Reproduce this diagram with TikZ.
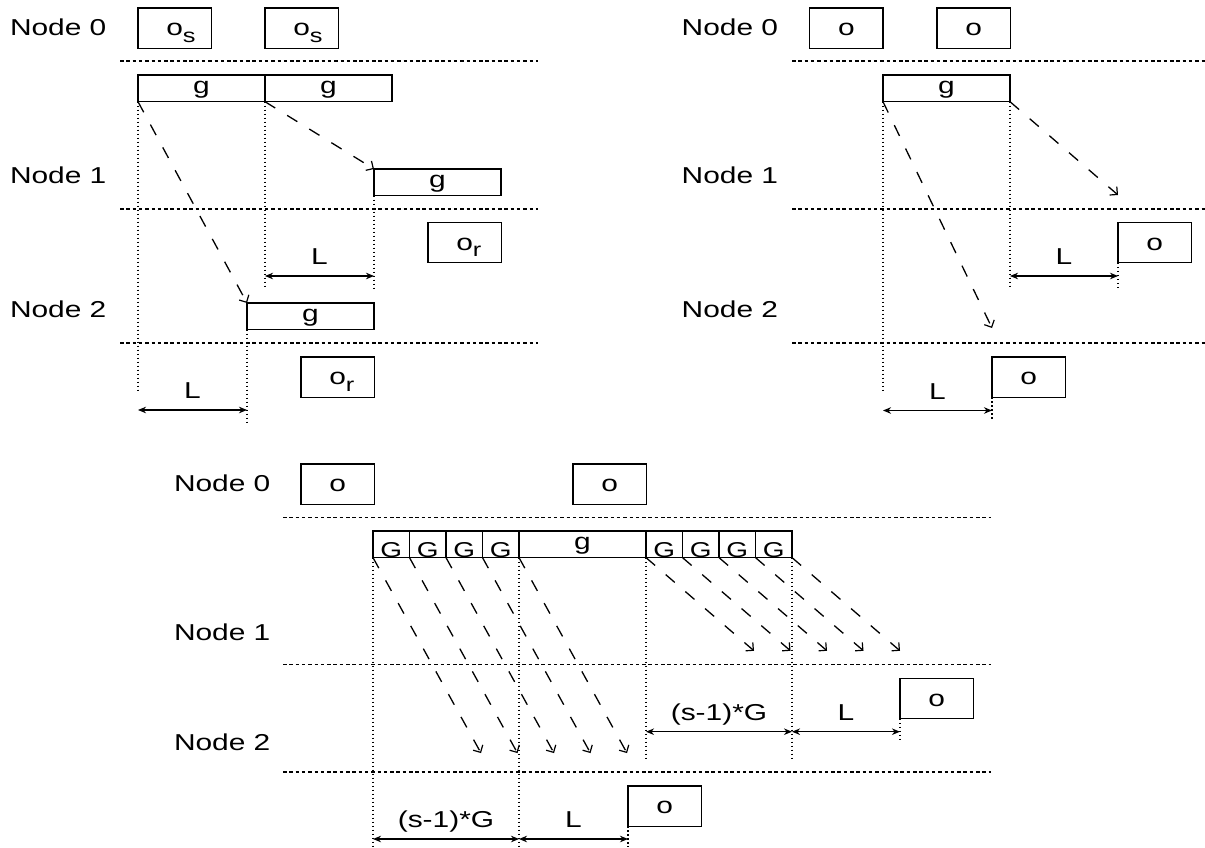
\documentclass[tikz,border=0pt]{standalone}
\usepackage{fontspec}
\setmainfont{Liberation Sans}[FakeStretch=1.3]
\usetikzlibrary{arrows.meta}
\newcommand\osub[1]{\rlap{\raisebox{-6.5pt}{\fontsize{19.5}{19.5}\selectfont #1}}}
\begin{document}
\begin{tikzpicture}[x=1pt,y=-1pt,
  every node/.style={inner sep=0pt, outer sep=0pt},
  txt/.style={font=\fontsize{23}{27}\selectfont},
  lbl/.style={txt, anchor=base west},
  obox/.style={draw, line width=1.3pt, minimum width=73.3pt, minimum height=40.3pt, txt, text height=15pt, text depth=0pt},
  gbox/.style={draw, line width=1.3pt, minimum width=127pt, minimum height=26.7pt, txt, text height=10pt, text depth=0pt},
  Gbox/.style={draw, line width=1.3pt, minimum width=36.5pt, minimum height=26.7pt, font=\fontsize{21.5}{24}\selectfont, text height=25.5pt, text depth=0pt},
  hsep/.style={line width=1.2pt, dash pattern=on 3.5pt off 2.8pt},
  vdot/.style={line width=1.6pt, dash pattern=on 1.6pt off 2.4pt},
  darr/.style={line width=1.3pt, dash pattern=on 12pt off 14pt, -{Straight Barb[length=5.5pt,width=11pt,line width=1.2pt]}},
  dim/.style={line width=1.1pt, {Stealth[length=8pt,width=6.5pt,inset=2.5pt]}-{Stealth[length=8pt,width=6.5pt,inset=2.5pt]}},
  dimlbl/.style={txt, anchor=base},
]
\fill[white] (0,0) rectangle (1205,848);
\useasboundingbox (0,0) rectangle (1205,848);

% ================= top-left panel =================
\node[lbl] (tln0) at (10,35.7) {Node 0};
\node[lbl] (tln1) at (10,183.3) {Node 1};
\node[lbl] (tln2) at (10,317.3) {Node 2};
\draw[hsep] (120,61) -- (538,61);
\draw[hsep] (120,209) -- (538,209);
\draw[hsep] (120,343) -- (538,343);

\node[obox] (tlos1) at (174.65,28.15) {o\osub{s}};
\node[obox] (tlos2) at (301.65,28.15) {o\osub{s}};
\node[gbox] (tlg1) at (201.5,88.35) {g};
\node[gbox] (tlg2) at (328.5,88.35) {g};
\node[gbox] (tlg3) at (437.5,182.35) {g};
\node[obox] (tlor1) at (464.65,242.65) {o\osub{r}};
\node[gbox] (tlg4) at (310.5,316.35) {g};
\node[obox] (tlor2) at (337.65,377) {o\osub{r}};

\coordinate (tlv1) at (138,393);
\coordinate (tlv2) at (265,287);
\coordinate (tlv3) at (374,289);
\coordinate (tlv4) at (247,423);
\draw[vdot] (tlg1.south west) -- (tlv1);
\draw[vdot] (tlg2.south west) -- (tlv2);
\draw[vdot] (tlg3.south west) -- (tlv3);
\draw[vdot] (tlg4.south west) -- (tlv4);

\draw[darr] (tlg1.south west) -- (tlg4.north west);
\draw[darr] (tlg2.south west) -- (tlg3.north west);

\coordinate (tld1a) at (265,276);
\coordinate (tld1b) at (374,276);
\coordinate (tld2a) at (138,410);
\coordinate (tld2b) at (247,410);
\draw[dim] (tld1a) -- (tld1b);
\draw[dim] (tld2a) -- (tld2b);
\node[dimlbl] (tlL1) at (319.5,264.5) {L};
\node[dimlbl] (tlL2) at (192.5,398) {L};

% ================= top-right panel =================
\node[lbl] (trn0) at (681.7,35.7) {Node 0};
\node[lbl] (trn1) at (681.7,183.3) {Node 1};
\node[lbl] (trn2) at (681.7,317.3) {Node 2};
\draw[hsep] (792,61) -- (1205,61);
\draw[hsep] (792,209) -- (1205,209);
\draw[hsep] (792,343) -- (1205,343);

\node[obox] (tro1) at (846.35,28.15) {o};
\node[obox] (tro2) at (973.65,28.15) {o};
\node[gbox] (trg) at (946.5,88.35) {g};
\node[obox] (tro3) at (1154.65,242.65) {o};
\node[obox] (tro4) at (1028.65,377) {o};

\coordinate (tre1) at (1118,195);
\coordinate (tre2) at (992,328);
\draw[darr] (trg.south east) -- (tre1);
\draw[darr] (trg.south west) -- (tre2);

\coordinate (trv1) at (883,393);
\coordinate (trv2) at (1010,287);
\coordinate (trv3) at (1118,287);
\coordinate (trv4) at (992,421);
\draw[vdot] (trg.south west) -- (trv1);
\draw[vdot] (trg.south east) -- (trv2);
\draw[vdot] (tro3.south west) -- (trv3);
\draw[vdot] (tro4.south west) -- (trv4);

\coordinate (trd1a) at (1010,276);
\coordinate (trd1b) at (1118,276);
\coordinate (trd2a) at (883,410.5);
\coordinate (trd2b) at (992,410.5);
\draw[dim] (trd1a) -- (trd1b);
\draw[dim] (trd2a) -- (trd2b);
\node[dimlbl] (trL1) at (1064,264.5) {L};
\node[dimlbl] (trL2) at (937.5,399) {L};

% ================= bottom panel =================
\node[lbl] (bn0) at (174,491) {Node 0};
\node[lbl] (bn1) at (174,640) {Node 1};
\node[lbl] (bn2) at (174,750) {Node 2};
\draw[hsep] (283,517.7) -- (991,517.7);
\draw[hsep] (283,664.7) -- (991,664.7);
\draw[hsep] (283,772) -- (991,772);

\node[obox] (bo1) at (337.65,484.15) {o};
\node[obox] (bo2) at (609.65,484.15) {o};
\node[Gbox] (bG1) at (391.25,544.25) {G};
\node[Gbox] (bG2) at (427.75,544.25) {G};
\node[Gbox] (bG3) at (464.25,544.25) {G};
\node[Gbox] (bG4) at (500.75,544.25) {G};
\node[gbox] (bg) at (582.5,544.25) {g};
\node[Gbox] (bH1) at (664.25,544.25) {G};
\node[Gbox] (bH2) at (700.75,544.25) {G};
\node[Gbox] (bH3) at (737.25,544.25) {G};
\node[Gbox] (bH4) at (773.75,544.25) {G};
\node[obox] (bo3) at (936.65,698.65) {o};
\node[obox] (bo4) at (664.65,806.15) {o};

% dashed arrows, left group (to Node 2)
\foreach \s/\n in {bG1.south west/1, bG2.south west/2, bG3.south west/3, bG4.south west/4, bg.south west/5}{
  \path (\s) ++(108,195.5) coordinate (bel\n);
  \draw[darr] (\s) -- (bel\n);
}
% dashed arrows, right group (to Node 1)
\foreach \s/\n in {bH1.south west/1, bH2.south west/2, bH3.south west/3, bH4.south west/4, bH4.south east/5}{
  \path (\s) ++(108,93.2) coordinate (ber\n);
  \draw[darr] (\s) -- (ber\n);
}

\coordinate (bv1) at (373,847);
\coordinate (bv2) at (519,847);
\coordinate (bv3) at (646,760);
\coordinate (bv4) at (792,760);
\coordinate (bv5) at (900,742);
\coordinate (bv6) at (628,847);
\draw[vdot] (bG1.south west) -- (bv1);
\draw[vdot] (bg.south west) -- (bv2);
\draw[vdot] (bg.south east) -- (bv3);
\draw[vdot] (bH4.south east) -- (bv4);
\draw[vdot] (bo3.south west) -- (bv5);
\draw[vdot] (bo4.south west) -- (bv6);

\coordinate (bd1a) at (646,731.7);
\coordinate (bd1b) at (792,731.7);
\coordinate (bd2b) at (900,731.7);
\coordinate (bd3a) at (373,839);
\coordinate (bd3b) at (519,839);
\coordinate (bd4b) at (628,839);
\draw[dim] (bd1a) -- (bd1b);
\draw[dim] (bd1b) -- (bd2b);
\draw[dim] (bd3a) -- (bd3b);
\draw[dim] (bd3b) -- (bd4b);
\node[dimlbl] (bL1) at (719,720.2) {(s-1)*G};
\node[dimlbl] (bL2) at (846,720.2) {L};
\node[dimlbl] (bL3) at (446,827.5) {(s-1)*G};
\node[dimlbl] (bL4) at (573.5,827.5) {L};
\end{tikzpicture}
\end{document}
